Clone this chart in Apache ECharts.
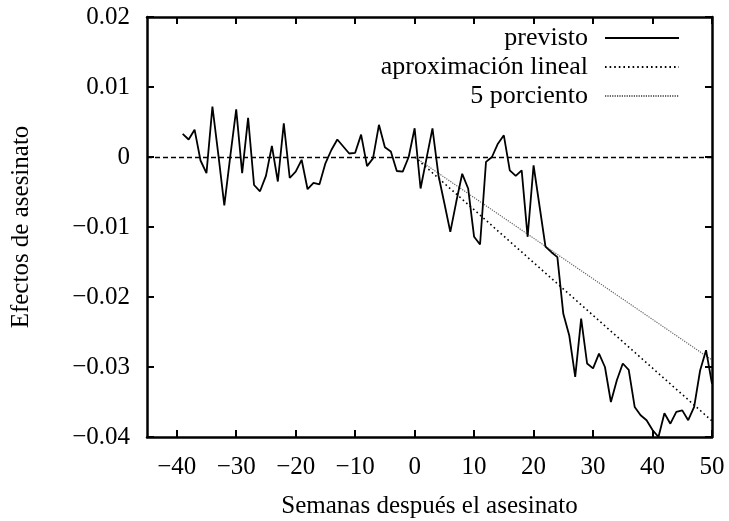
<!DOCTYPE html>
<html>
<head>
<meta charset="utf-8">
<script src="https://cdn.jsdelivr.net/npm/echarts@6/dist/echarts.min.js"></script>
<style>html,body{margin:0;padding:0;background:#fff;}#c{width:729px;height:521px;}</style>
</head>
<body>
<div id="c"></div>
<script>
const weeks = [];
for (let w = -39; w <= 50; w++) weeks.push(w);
const previsto = [
 0.0033, 0.0025, 0.0039, -0.0005, -0.0023, 0.0072, 0.0003, -0.0069, 0.0001, 0.0068,
 -0.0023, 0.0056, -0.0040, -0.0049, -0.0027, 0.0016, -0.0035, 0.0048, -0.0030, -0.0021,
 -0.0004, -0.0046, -0.0037, -0.0039, -0.0009, 0.0010, 0.0025, 0.0015, 0.0005, 0.0006,
 0.0032, -0.0013, -0.0002, 0.0046, 0.0014, 0.0008, -0.0020, -0.0021, 0.0000, 0.0041,
 -0.0045, -0.0002, 0.0041, -0.0026, -0.0066, -0.0107, -0.0064, -0.0024, -0.0045, -0.0114,
 -0.0125, -0.0007, 0.0000, 0.0019, 0.0031, -0.0019, -0.0027, -0.0019, -0.0114, -0.0012,
 -0.0070, -0.0128, -0.0136, -0.0143, -0.0224, -0.0255, -0.0314, -0.0231, -0.0295, -0.0302,
 -0.0281, -0.0300, -0.0350, -0.0319, -0.0295, -0.0304, -0.0357, -0.0369, -0.0376, -0.0390,
 -0.0400, -0.0366, -0.0381, -0.0364, -0.0362, -0.0376, -0.0357, -0.0305, -0.0276, -0.0324
];
const linealX = [0, 50];
const linealY = [0, -0.0377];
const porcientoX = [0, 50];
const porcientoY = [0, -0.0290];
const xTicks = [-40, -30, -20, -10, 0, 10, 20, 30, 40, 50];
const seriesNames = ['previsto', 'aproximación lineal', '5 porciento'];

const FONT = "'Liberation Serif', 'DejaVu Serif', serif";
const FS = 25;
const minus = s => String(s).replace('-', '\u2212');
const yFmt = v => Math.abs(v) < 1e-9 ? '0' : (v < 0 ? '\u2212' : '') + Math.abs(v).toFixed(2);

const tickStyle = { show: true, inside: true, length: 7, lineStyle: { color: '#000', width: 2 } };
const lineStyleAxis = { show: true, onZero: false, lineStyle: { color: '#000', width: 2.5 } };

function legendAt(name, top) {
  return {
    data: [name], right: 49, top: top, align: 'right', orient: 'vertical',
    itemWidth: 74, itemHeight: 14, padding: 0,
    selectedMode: false,
    itemStyle: { opacity: 0 },
    textStyle: { fontFamily: FONT, fontSize: 26, color: '#000', lineHeight: 26, padding: [0, 12, 0, 0] }
  };
}

const chart = echarts.init(document.getElementById('c'), null, { renderer: 'canvas' });
chart.setOption({
  animation: false,
  backgroundColor: '#fff',
  grid: { left: 147, right: 17, top: 17, bottom: 84, containLabel: false, outerBoundsMode: 'none' },
  legend: [legendAt(seriesNames[0], 25), legendAt(seriesNames[1], 54), legendAt(seriesNames[2], 83)],
  xAxis: [{
    type: 'value', min: -45, max: 50, position: 'bottom',
    name: 'Semanas después el asesinato', nameLocation: 'middle', nameGap: 57,
    nameTextStyle: { fontFamily: FONT, fontSize: FS, color: '#000' },
    axisLine: lineStyleAxis,
    axisTick: Object.assign({ customValues: xTicks }, tickStyle),
    axisLabel: { customValues: xTicks, formatter: v => minus(v), fontFamily: FONT, fontSize: FS, color: '#000', margin: 18 },
    splitLine: { show: false }
  }, {
    type: 'value', min: -45, max: 50, position: 'top',
    axisLine: lineStyleAxis,
    axisTick: Object.assign({ customValues: xTicks }, tickStyle),
    axisLabel: { show: false },
    splitLine: { show: false }
  }],
  yAxis: [{
    type: 'value', min: -0.04, max: 0.02, interval: 0.01, position: 'left',
    name: 'Efectos de asesinato', nameLocation: 'middle', nameGap: 113, nameRotate: 90,
    nameTextStyle: { fontFamily: FONT, fontSize: FS, color: '#000' },
    axisLine: lineStyleAxis,
    axisTick: tickStyle,
    axisLabel: { formatter: yFmt, fontFamily: FONT, fontSize: FS, color: '#000', margin: 17 },
    splitLine: { show: false }
  }, {
    type: 'value', min: -0.04, max: 0.02, interval: 0.01, position: 'right',
    axisLine: lineStyleAxis,
    axisTick: tickStyle,
    axisLabel: { show: false },
    splitLine: { show: false }
  }],
  series: [{
    name: seriesNames[0], type: 'line', symbol: 'none', z: 5,
    data: weeks.map((w, i) => [w, previsto[i]]),
    lineStyle: { color: '#000', width: 1.8 },
    itemStyle: { color: '#000' },
    markLine: {
      silent: true, symbol: 'none', label: { show: false },
      lineStyle: { color: '#000', width: 1.4, type: [5, 3] },
      data: [{ yAxis: 0 }]
    }
  }, {
    name: seriesNames[1], type: 'line', symbol: 'none', z: 4,
    data: linealX.map((x, i) => [x, linealY[i]]),
    lineStyle: { color: '#000', width: 1.6, type: [1.6, 3] },
    itemStyle: { color: '#000' }
  }, {
    name: seriesNames[2], type: 'line', symbol: 'none', z: 3,
    data: porcientoX.map((x, i) => [x, porcientoY[i]]),
    lineStyle: { color: '#666', width: 1.2, type: [1.2, 1.2] },
    itemStyle: { color: '#666' }
  }]
});
</script>
</body>
</html>
